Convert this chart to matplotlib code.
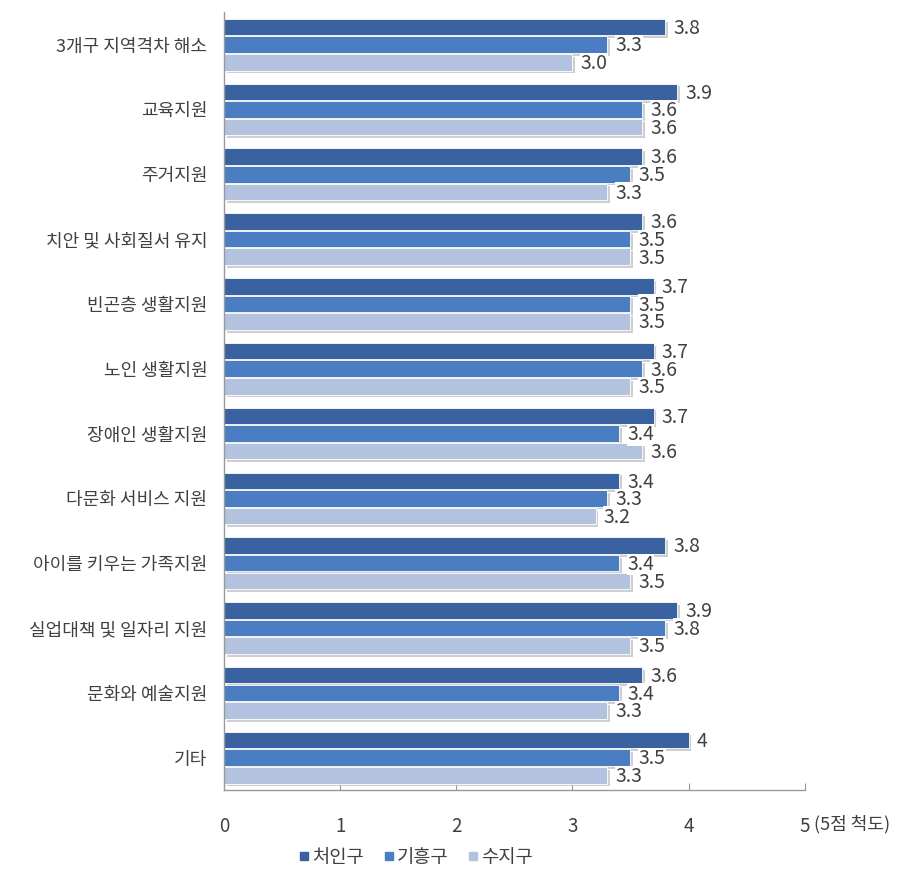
"""Horizontal grouped bars: satisfaction by policy area for three districts."""
import matplotlib
matplotlib.use('Agg')
import matplotlib.pyplot as plt
import matplotlib.patheffects as pe
from matplotlib.lines import Line2D
import numpy as np

plt.rcParams['font.family'] = ['Noto Sans CJK KR', 'DejaVu Sans']

CATEGORIES = ['3개구 지역격차 해소', '교육지원', '주거지원', '치안 및 사회질서 유지',
              '빈곤층 생활지원', '노인 생활지원', '장애인 생활지원', '다문화 서비스 지원',
              '아이를 키우는 가족지원', '실업대책 및 일자리 지원', '문화와 예술지원', '기타']
SERIES = ['처인구', '기흥구', '수지구']
# values kept as printed in the chart (labels show "3.0" but "4")
CHEOIN = ['3.8', '3.9', '3.6', '3.6', '3.7', '3.7', '3.7', '3.4', '3.8', '3.9', '3.6', '4']
GIHEUNG = ['3.3', '3.6', '3.5', '3.5', '3.5', '3.6', '3.4', '3.3', '3.4', '3.8', '3.4', '3.5']
SUJI = ['3.0', '3.6', '3.3', '3.5', '3.5', '3.5', '3.6', '3.2', '3.5', '3.5', '3.3', '3.3']
XTICKS = [0, 1, 2, 3, 4, 5]

COLORS = ['#3a62a0', '#4a7dc2', '#b3c2de']
TEXT = '#404040'

fig = plt.figure(figsize=(9, 8.74), dpi=100)
ax = fig.add_axes([0.249, 0.096, 0.645, 0.890])

y = np.arange(len(CATEGORIES))
bar_h = 0.255
offsets = [-0.272, 0.0, 0.272]
shadow = [pe.SimplePatchShadow(offset=(2, -2), shadow_rgbFace='#b0b0b0', alpha=0.6),
          pe.Normal()]

for values, off, color, name in zip([CHEOIN, GIHEUNG, SUJI], offsets, COLORS, SERIES):
    nums = [float(v) for v in values]
    bars = ax.barh(y + off, nums, height=bar_h, color=color, edgecolor='white',
                   linewidth=0.6, label=name, zorder=2)
    for b in bars:
        b.set_path_effects(shadow)
    for yy, v, txt in zip(y + off, nums, values):
        ax.text(v + 0.07, yy + 0.02, txt, va='center', ha='left', fontsize=14,
                color=TEXT, zorder=4,
                bbox=dict(boxstyle='square,pad=0.02', fc='white', ec='none'))

ax.set_xlim(0, 5)
ax.set_ylim(len(CATEGORIES) - 0.5, -0.5)
ax.set_yticks(y)
ax.set_yticklabels(CATEGORIES, fontsize=13, color=TEXT)
ax.tick_params(axis='y', length=0, pad=12)
ax.set_xticks(XTICKS)
ax.set_xticklabels([str(t) for t in XTICKS], fontsize=13.5, color=TEXT)
ax.tick_params(axis='x', direction='in', length=5, color='#999999', pad=19)

for side in ('top', 'right'):
    ax.spines[side].set_visible(False)
for side in ('left', 'bottom'):
    ax.spines[side].set_color('#999999')
    ax.spines[side].set_linewidth(1.0)

ax.annotate('(5점 척도)', xy=(5, 0), xycoords=('data', 'axes fraction'),
            xytext=(9, -34), textcoords='offset pixels', ha='left', va='center',
            fontsize=13, color=TEXT)

handles = [Line2D([], [], marker='s', linestyle='none', markersize=6,
                  markerfacecolor=c, markeredgecolor=c) for c in COLORS]
fig.legend(handles, SERIES, loc='center', bbox_to_anchor=(0.462, 0.019),
           ncol=3, frameon=False, fontsize=13.5, handlelength=0.6,
           handletextpad=0.15, columnspacing=1.0, labelcolor=TEXT)

fig.savefig('out.png', dpi=100, facecolor='white')
